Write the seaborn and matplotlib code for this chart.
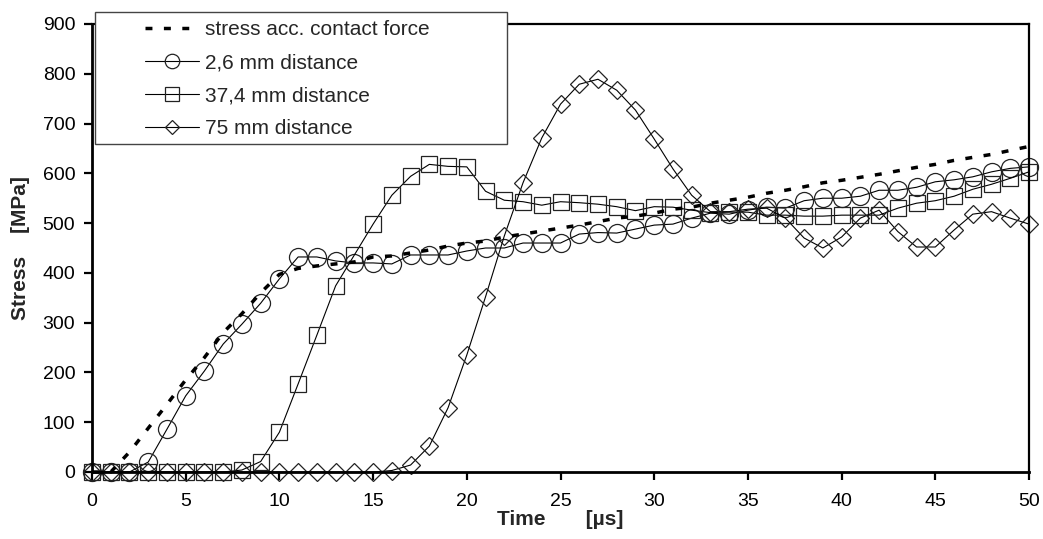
import numpy as np
import pandas as pd
import matplotlib
matplotlib.use("Agg")
import matplotlib.pyplot as plt
from matplotlib.patches import Rectangle
import seaborn as sns

time_us = list(range(0, 51))

contact_force = [0, 0, 40, 88, 136, 185, 230, 280, 318, 360,
                 397, 409, 414, 418, 422, 432, 434, 440, 446, 454,
                 460, 464, 472, 478, 484, 490, 496, 503, 510, 514,
                 520, 528, 532, 540, 546, 552, 560, 566, 573, 581,
                 586, 592, 598, 605, 612, 618, 626, 632, 638, 646, 654]

dist_2_6 = [0, 0, 0, 20, 86, 153, 203, 257, 297, 339,
            388, 432, 432, 424, 420, 420, 418, 436, 436, 436,
            444, 450, 450, 460, 460, 460, 478, 481, 480, 488,
            496, 498, 510, 520, 518, 526, 532, 530, 545, 550,
            550, 554, 566, 566, 572, 583, 587, 593, 603, 610, 613]

dist_37_4 = [0, 0, 0, 0, 0, 0, 0, 0, 4, 21,
             80, 177, 275, 374, 436, 498, 556, 594, 618, 614,
             613, 564, 546, 543, 536, 543, 541, 538, 533, 525,
             533, 532, 526, 521, 522, 522, 516, 516, 514, 514,
             516, 516, 516, 530, 540, 545, 554, 568, 578, 590, 603]

dist_75 = [0, 0, 0, 0, 0, 0, 0, 0, 0, 0,
           0, 0, 0, 0, 0, 0, 3, 14, 52, 129,
           235, 352, 474, 581, 671, 739, 779, 789, 767, 727,
           669, 609, 556, 523, 523, 528, 530, 510, 470, 450,
           472, 510, 526, 483, 452, 452, 486, 518, 523, 510, 498]

labels = ["stress acc. contact force", "2,6 mm distance",
          "37,4 mm distance", "75 mm distance"]

sns.set_style("ticks")
plt.rcParams["font.family"] = ["Liberation Sans", "DejaVu Sans"]

W, H = 1043, 539
fig = plt.figure(figsize=(W / 100, H / 100), dpi=100)
ax = fig.add_axes([92 / W, 1 - 472 / H, (1029 - 92) / W, (472 - 24) / H])

df = pd.DataFrame({"t": time_us, "cf": contact_force, "a": dist_2_6,
                   "b": dist_37_4, "c": dist_75})

mk = dict(color="black", lw=0.8, mfc="none", mec="#222222", mew=0.9, clip_on=False)
sns.lineplot(data=df, x="t", y="a", ax=ax, marker="o", ms=13, label=labels[1], **mk)
sns.lineplot(data=df, x="t", y="b", ax=ax, marker="s", ms=12, label=labels[2], **mk)
sns.lineplot(data=df, x="t", y="c", ax=ax, marker="D", ms=9.5, label=labels[3], **mk)
sns.lineplot(data=df, x="t", y="cf", ax=ax, color="black", lw=2.5,
             linestyle=(0, (2.0, 3.3)), label=labels[0], clip_on=False, zorder=5)

# legend frame (white box, partly above the plot area)
ax.add_patch(Rectangle((95 / W, 1 - 144 / H), (507 - 95) / W, (144 - 12) / H,
                       transform=fig.transFigure, clip_on=False, zorder=9,
                       facecolor="white", edgecolor="#444444", lw=1.0))

ax.set_xlim(0, 50)
ax.set_ylim(0, 900)
ax.set_xticks(range(0, 51, 5))
ax.set_yticks(range(0, 901, 100))
ax.tick_params(axis="both", direction="out", length=6, width=1.6,
               labelsize=14, colors="black")
ax.tick_params(axis="x", pad=9)
ax.tick_params(axis="y", pad=6)
for side in ["left", "bottom"]:
    ax.spines[side].set_linewidth(2)
for side in ["top", "right"]:
    ax.spines[side].set_visible(True)
    ax.spines[side].set_linewidth(1.6)
for s in ax.spines.values():
    s.set_color("black")

ax.set_xlabel("Time       [\u00b5s]", fontsize=15, fontweight="bold")
ax.xaxis.set_label_coords(0.5, -(510 - 472) / 448)
ax.set_ylabel("Stress    [MPa]", fontsize=15, fontweight="bold")
ax.yaxis.set_label_coords(-(92 - 30) / 937, 0.5)

h, l = ax.get_legend_handles_labels()
order = [3, 0, 1, 2]
leg = ax.legend([h[i] for i in order], [l[i] for i in order],
                loc="upper left", bbox_to_anchor=(145 / W, 1 - 20 / H),
                bbox_transform=fig.transFigure, borderaxespad=0, borderpad=0,
                fontsize=15, frameon=False, handlelength=2.6, handletextpad=0.3,
                labelspacing=0.68, markerscale=0.8)
leg.set_zorder(10)

fig.savefig("out.png", dpi=100)
